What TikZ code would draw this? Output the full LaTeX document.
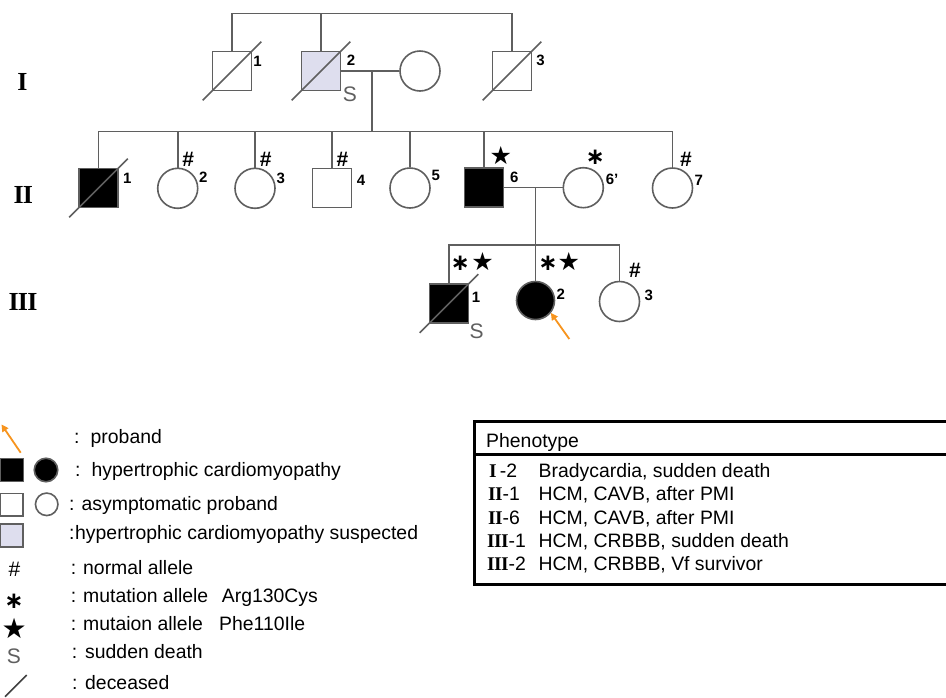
\documentclass[tikz,border=0pt]{standalone}
\usepackage{fontspec}
\setmainfont{Liberation Sans}
\newfontfamily\serifrn{Liberation Serif}
\newfontfamily\dejavu{DejaVu Sans}
\usetikzlibrary{arrows.meta,calc}
\definecolor{lnc}{RGB}{95,95,95}
\definecolor{lav}{RGB}{222,222,238}
\definecolor{orng}{RGB}{247,148,30}
\newcommand\romn[1]{{\serifrn\bfseries #1}}
\newcommand\astk{{\dejavu\bfseries ∗}}
\newcommand\strk{{\dejavu ★}}
\tikzset{
  ln/.style={draw=lnc,line width=1.7pt},
  male/.style={rectangle,draw=lnc,line width=1.6pt,minimum size=39pt,inner sep=0pt,fill=white},
  female/.style={circle,draw=lnc,line width=1.6pt,minimum size=40pt,inner sep=0pt,fill=white},
  aff/.style={fill=black},
  num/.style={inner sep=0pt,font=\fontsize{15}{15}\selectfont\bfseries},
  hsh/.style={inner sep=0pt,font=\fontsize{21}{21}\selectfont\bfseries},
  ast/.style={inner sep=0pt,font=\fontsize{23}{23}\selectfont},
  str/.style={inner sep=0pt,font=\fontsize{25}{25}\selectfont},
  sdl/.style={inner sep=0pt,text=lnc,font=\fontsize{21}{21}\selectfont},
  genl/.style={inner sep=0pt,font=\fontsize{26}{26}\selectfont},
  arr/.style={draw=orng,line width=1.8pt,-{Triangle[length=7pt,width=7pt]}},
  lt/.style={anchor=base west,inner sep=0pt,font=\fontsize{19.4}{19.4}\selectfont},
  tb/.style={line width=3pt}
}
\newcommand\deceased[1]{\draw[ln] ($(#1.south west)+(-9,9)$) -- ($(#1.north east)+(9,-9)$);}
\begin{document}
\begin{tikzpicture}[x=1pt,y=-1pt]
\useasboundingbox (0,0) rectangle (946,697);
\fill[white] (0,0) rectangle (946,697);

% generation labels
\node[genl] (gI) at (22.5,82) {\romn{I}};
\node[genl] (gII) at (23.3,194.7) {\romn{I\kern-0.8pt I}};
\node[genl] (gIII) at (23,302) {\romn{I\kern-0.8pt I\kern-0.8pt I}};

% generation I
\node[male] (I1) at (232,71) {};
\node[male,fill=lav] (I2) at (321,71) {};
\node[female] (Iw) at (420,71) {};
\node[male] (I3) at (512,71) {};
\coordinate (topI) at (372,13.5);
\draw[ln] (I1.north) |- (topI) -| (I3.north);
\draw[ln] (I2.north) -- (I2.north |- topI);
\draw[ln] (I2.east) -- (Iw.west);
\coordinate (mI) at (372,71);
\coordinate (sibII) at (372,131.5);
\draw[ln] (mI) -- (sibII);
\deceased{I1}\deceased{I2}\deceased{I3}
\node[num] (nI1) at (257.5,61.7) {1};
\node[num] (nI2) at (351,60.5) {2};
\node[sdl] (sI2) at (350,94.5) {S};
\node[num] (nI3) at (540.5,60.5) {3};

% generation II
\node[male,aff] (II1) at (98.5,188) {};
\node[female] (II2) at (177.7,188.3) {};
\node[female] (II3) at (255,188.3) {};
\node[male] (II4) at (332,188) {};
\node[female] (II5) at (410,188) {};
\node[male,aff] (II6) at (484,187.5) {};
\node[female] (II6w) at (583.3,187.7) {};
\node[female] (II7) at (672.5,188) {};
\draw[ln] (II1.north) |- (sibII) -| (II7.north);
\foreach \p in {II2,II3,II4,II5,II6} \draw[ln] (\p.north) -- (\p.north |- sibII);
\draw[ln] (II6.east) -- (II6.east -| II6w.west);
\coordinate (mII) at (535.5,187.5);
\coordinate (sibIII) at (535.5,245);
\draw[ln] (mII) -- (sibIII);
\deceased{II1}
\node[num] (nII1) at (127.2,178.7) {1};
\node[hsh] (hII2) at (188.3,159.2) {\#};
\node[num] (nII2) at (203.2,177.5) {2};
\node[hsh] (hII3) at (265.8,159.2) {\#};
\node[num] (nII3) at (280.8,178.8) {3};
\node[hsh] (hII4) at (342.5,159.2) {\#};
\node[num] (nII4) at (361,180) {4};
\node[num] (nII5) at (435.8,175.5) {5};
\node[str] (sII6) at (500.8,155.2) {\strk};
\node[num] (nII6) at (514.2,177.5) {6};
\node[ast] (aII6w) at (595.3,157.3) {\astk};
\node[num] (nII6w) at (612,179.5) {6'};
\node[hsh] (hII7) at (686,159.2) {\#};
\node[num] (nII7) at (698.8,180.5) {7};

% generation III
\node[male,aff] (III1) at (449,303.5) {};
\node[female,aff,minimum size=38pt] (III2) at (535.5,300.5) {};
\node[female] (III3) at (619.5,301.5) {};
\draw[ln] (III1.north) |- (sibIII) -| (III3.north);
\draw[ln] (III2.north) -- (III2.north |- sibIII);
\deceased{III1}
\node[ast] (aIII1) at (460.3,263.3) {\astk};
\node[str] (sIII1) at (482.7,261.8) {\strk};
\node[num] (nIII1) at (476,297.2) {1};
\node[sdl] (dIII1) at (476.7,330.8) {S};
\node[ast] (aIII2) at (548,263.3) {\astk};
\node[str] (sIII2) at (568.8,261.8) {\strk};
\node[num] (nIII2) at (560.8,294.7) {2};
\node[hsh] (hIII3) at (635,270.8) {\#};
\node[num] (nIII3) at (648.7,295) {3};
\coordinate (arrIII) at (569.3,339);
\draw[arr] (arrIII) -- (III2.-39);

% legend
\coordinate (La1) at (20.7,452.7);
\coordinate (La2) at (1.5,424.5);
\draw[arr] (La1) -- (La2);
\node[male,aff,minimum size=23pt] (Lsq1) at (12,470) {};
\node[female,aff,minimum size=23.5pt] (Lci1) at (46,470) {};
\node[male,minimum size=22.5pt] (Lsq2) at (11.7,504.7) {};
\node[female,minimum size=22.5pt] (Lci2) at (46.7,504.3) {};
\node[male,fill=lav,minimum size=22.5pt] (Lsq3) at (11.7,535.5) {};
\node[hsh,font=\fontsize{21}{21}\selectfont] (Lh) at (14.5,569) {\#};
\node[ast] (La) at (14,600.8) {\astk};
\node[str,font=\fontsize{28}{28}\selectfont] (Ls) at (14.2,628.3) {\strk};
\node[sdl] (LS) at (14,655.8) {S};
\coordinate (Ld1) at (5,696.7);
\coordinate (Ld2) at (26.7,675);
\draw[draw=black!75,line width=1.6pt] (Ld1) -- (Ld2);

\node[lt] (c1) at (74,443) {:};
\node[lt] (t1) at (90.5,443) {proband};
\node[lt] (c2) at (75,476) {:};
\node[lt] (t2) at (91.5,476) {hypertrophic cardiomyopathy};
\node[lt] (c3) at (69,510) {:};
\node[lt] (t3) at (81.5,510) {asymptomatic proband};
\node[lt] (c4) at (69,539.3) {:};
\node[lt] (t4) at (75,539.3) {hypertrophic cardiomyopathy suspected};
\node[lt] (c5) at (70.7,574) {:};
\node[lt] (t5) at (83,574) {normal allele};
\node[lt] (c6) at (70.7,602.7) {:};
\node[lt] (t6) at (83,602.7) {mutation allele};
\node[lt] (t6b) at (221.7,602.7) {Arg130Cys};
\node[lt] (c7) at (70.7,630) {:};
\node[lt] (t7) at (83,630) {mutaion allele};
\node[lt] (t7b) at (219,630) {Phe110Ile};
\node[lt] (c8) at (71.7,658.3) {:};
\node[lt] (t8) at (85,658.3) {sudden death};
\node[lt] (c9) at (72,689.3) {:};
\node[lt] (t9) at (85,689.3) {deceased};

% phenotype table
\draw[tb] (474,421) rectangle (975,584.5);
\draw[tb] (474,454) -- (975,454);
\node[lt] (ph) at (486,447.3) {Phenotype};
\node[lt] (r1a) at (489,477.3) {\romn{I}\,-2};
\node[lt] (r1b) at (538.5,477.3) {Bradycardia, sudden death};
\node[lt] (r2a) at (488,500.6) {\romn{I\kern-0.6pt I}-1};
\node[lt] (r2b) at (538.5,500.6) {HCM, CAVB, after PMI};
\node[lt] (r3a) at (488,524) {\romn{I\kern-0.6pt I}-6};
\node[lt] (r3b) at (538.5,524) {HCM, CAVB, after PMI};
\node[lt] (r4a) at (487,547.3) {\romn{I\kern-0.6pt I\kern-0.6pt I}-1};
\node[lt] (r4b) at (538.5,547.3) {HCM, CRBBB, sudden death};
\node[lt] (r5a) at (487,570.6) {\romn{I\kern-0.6pt I\kern-0.6pt I}-2};
\node[lt] (r5b) at (538.5,570.6) {HCM, CRBBB, Vf survivor};
\end{tikzpicture}
\end{document}
